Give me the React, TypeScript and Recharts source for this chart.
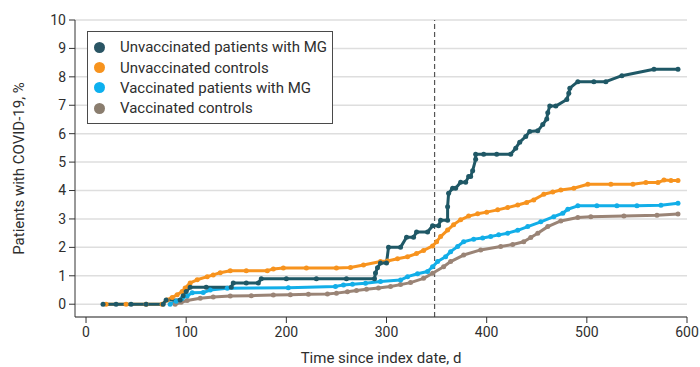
import { LineChart, Line, XAxis, YAxis, CartesianGrid, ReferenceLine, Legend, Label } from "recharts";

// days since index date / cumulative % with COVID-19
const unvaxMgDays = [17, 30, 45, 60, 77, 80, 94, 97, 100, 104, 120, 145, 147, 160, 172, 175, 200, 230, 260, 288, 289, 291, 294, 300, 302, 314, 320, 327, 330, 341, 346, 352, 354, 361, 361, 362, 366, 369, 374, 379, 382, 384, 386, 389, 389, 397, 410, 424, 429, 433, 439, 443, 451, 456, 460, 461, 463, 469, 480, 482, 483, 491, 507, 519, 535, 567, 591];
const unvaxMgPct = [0, 0, 0, 0, 0, 0.15, 0.15, 0.3, 0.45, 0.6, 0.6, 0.6, 0.75, 0.75, 0.75, 0.9, 0.9, 0.9, 0.9, 0.9, 1.1, 1.28, 1.45, 1.45, 2.0, 2.0, 2.36, 2.36, 2.54, 2.54, 2.76, 2.76, 2.95, 2.95, 3.43, 3.9, 4.08, 4.08, 4.29, 4.29, 4.49, 4.49, 4.7, 5.1, 5.28, 5.28, 5.28, 5.28, 5.49, 5.7, 5.9, 6.08, 6.1, 6.32, 6.52, 6.74, 6.97, 6.97, 7.2, 7.42, 7.6, 7.83, 7.83, 7.83, 8.04, 8.27, 8.27];

const unvaxCtrlDays = [20, 40, 60, 76, 81, 86, 91, 96, 99, 104, 111, 121, 127, 134, 144, 160, 181, 187, 197, 220, 250, 264, 277, 294, 301, 311, 321, 330, 337, 346, 350, 354, 361, 367, 374, 382, 391, 400, 411, 421, 431, 440, 447, 457, 466, 474, 487, 501, 524, 546, 559, 571, 577, 584, 591];
const unvaxCtrlPct = [0, 0, 0, 0, 0.15, 0.24, 0.33, 0.45, 0.57, 0.75, 0.86, 0.97, 1.03, 1.11, 1.18, 1.18, 1.18, 1.24, 1.27, 1.27, 1.27, 1.29, 1.38, 1.5, 1.52, 1.6, 1.67, 1.78, 1.89, 2.05, 2.2, 2.38, 2.61, 2.8, 2.97, 3.1, 3.18, 3.24, 3.32, 3.4, 3.49, 3.58, 3.67, 3.87, 3.95, 4.02, 4.08, 4.22, 4.22, 4.22, 4.28, 4.28, 4.37, 4.35, 4.35];

const vaxMgDays = [84, 90, 96, 101, 106, 117, 124, 141, 202, 249, 257, 266, 279, 294, 314, 321, 331, 341, 346, 351, 359, 364, 371, 377, 387, 396, 404, 412, 421, 431, 441, 454, 467, 476, 481, 491, 510, 530, 550, 574, 591];
const vaxMgPct = [0, 0.1, 0.2, 0.29, 0.4, 0.41, 0.5, 0.56, 0.58, 0.62, 0.68, 0.7, 0.74, 0.8, 0.85, 0.97, 1.07, 1.15, 1.32, 1.5, 1.67, 1.85, 2.03, 2.2, 2.29, 2.33, 2.38, 2.44, 2.5, 2.6, 2.73, 2.9, 3.08, 3.2, 3.34, 3.46, 3.46, 3.46, 3.46, 3.48, 3.55];

const vaxCtrlDays = [89, 95, 101, 114, 127, 144, 165, 187, 204, 222, 241, 250, 261, 270, 280, 292, 304, 314, 324, 337, 346, 357, 364, 377, 394, 414, 426, 437, 444, 451, 461, 474, 491, 504, 537, 570, 591];
const vaxCtrlPct = [0, 0.07, 0.13, 0.21, 0.25, 0.29, 0.3, 0.32, 0.33, 0.35, 0.36, 0.39, 0.44, 0.48, 0.53, 0.57, 0.62, 0.69, 0.76, 0.91, 1.09, 1.32, 1.5, 1.73, 1.91, 2.03, 2.1, 2.2, 2.35, 2.5, 2.73, 2.93, 3.05, 3.08, 3.1, 3.13, 3.17];

const xTicks = [0, 100, 200, 300, 400, 500, 600];
const yTicks = [0, 1, 2, 3, 4, 5, 6, 7, 8, 9, 10];
const cutoffDay = 348;

const zip = (days: number[], pct: number[]) => days.map((d, i) => ({ x: d, y: pct[i] }));

const series = [
  { name: "Vaccinated controls", color: "#9a8476", data: zip(vaxCtrlDays, vaxCtrlPct) },
  { name: "Vaccinated patients with MG", color: "#12aee8", data: zip(vaxMgDays, vaxMgPct) },
  { name: "Unvaccinated controls", color: "#f7931e", data: zip(unvaxCtrlDays, unvaxCtrlPct) },
  { name: "Unvaccinated patients with MG", color: "#1f5866", data: zip(unvaxMgDays, unvaxMgPct) },
];

const legendOrder = [
  { name: "Unvaccinated patients with MG", color: "#2a5564" },
  { name: "Unvaccinated controls", color: "#f7931e" },
  { name: "Vaccinated patients with MG", color: "#0db0ef" },
  { name: "Vaccinated controls", color: "#8a7d6e" },
];

const font = "Roboto, 'Noto Sans', sans-serif";
const ink = "#2e2e2e";

function LegendBox() {
  return (
    <div
      style={{
        width: 246,
        height: 93,
        boxSizing: "border-box",
        border: "1.5px solid #4a4a4a",
        paddingTop: 5,
        paddingLeft: 6,
        background: "#fff",
        fontFamily: font,
        fontSize: 15,
        color: ink,
      }}
    >
      {legendOrder.map((s) => (
        <div key={s.name} style={{ display: "flex", alignItems: "center", height: 20.4 }}>
          <span style={{ width: 11, height: 11, borderRadius: "50%", background: s.color, marginRight: 15, flex: "none" }} />
          <span style={{ whiteSpace: "nowrap" }}>{s.name}</span>
        </div>
      ))}
    </div>
  );
}

export default function App() {
  return (
    <div style={{ position: "absolute", left: 0, top: 0, width: 700, height: 367, background: "#fff" }}>
      <LineChart width={700} height={367} margin={{ top: 20, right: 13, bottom: 0, left: 0 }}>
        <CartesianGrid vertical={false} stroke="#dedede" strokeWidth={1.5} />
        <XAxis
          type="number"
          dataKey="x"
          domain={[-11, 600]}
          ticks={xTicks}
          height={50}
          tickSize={6}
          tickMargin={4}
          stroke="#333"
          tick={{ fill: ink, fontSize: 14, fontFamily: font }}
          allowDataOverflow
        >
          <Label value="Time since index date, d" position="insideBottom" offset={4} style={{ fill: ink, fontSize: 15, fontFamily: font }} />
        </XAxis>
        <YAxis
          type="number"
          domain={[-0.45, 10]}
          ticks={yTicks}
          width={75}
          tickSize={6}
          tickMargin={3}
          stroke="#333"
          tick={{ fill: ink, fontSize: 14, fontFamily: font }}
          allowDataOverflow
        >
          <Label
            value="Patients with COVID-19, %"
            angle={-90}
            position="insideLeft"
            offset={19}
            style={{ textAnchor: "middle", fill: ink, fontSize: 15, fontFamily: font }}
          />
        </YAxis>
        <ReferenceLine x={cutoffDay} stroke="#555" strokeWidth={1.2} strokeDasharray="5 3" />
        {series.map((s) => (
          <Line
            key={s.name}
            data={s.data}
            dataKey="y"
            name={s.name}
            type="linear"
            stroke={s.color}
            strokeWidth={3}
            strokeLinejoin="round"
            dot={{ r: 2.5, fill: s.color, stroke: "none" }}
            activeDot={false}
            isAnimationActive={false}
          />
        ))}
        <Legend
          layout="vertical"
          align="center"
          verticalAlign="middle"
          wrapperStyle={{ left: 87, top: 31, width: 246 }}
          content={() => <LegendBox />}
        />
      </LineChart>
    </div>
  );
}
